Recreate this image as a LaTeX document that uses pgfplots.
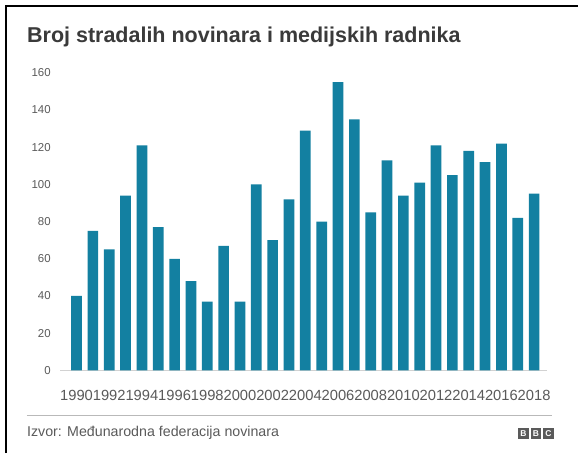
\documentclass[border=0pt]{standalone}
\usepackage{fontspec}
\setmainfont{Liberation Sans}
\usepackage{pgfplots}
\pgfplotsset{compat=1.18}
\definecolor{barblue}{HTML}{1380A1}
\definecolor{txt}{HTML}{5A5A5A}
\definecolor{ttl}{HTML}{3A3A3A}
\begin{document}
\begin{tikzpicture}[x=1bp,y=1bp]
\path[fill=white] (0,0) rectangle (579,454);
\draw[black, line width=2bp] (6,0) -- (6,448) -- (579,448);
\node[anchor=base west, inner sep=0pt, font=\bfseries\fontsize{21.6}{24}\selectfont, text=ttl] at (27,454-43) {Broj stradalih novinara i medijskih radnika};
\begin{axis}[
  at={(68.5bp,83bp)}, anchor=south west, scale only axis,
  width=474.7bp, height=298bp,
  xmin=1989.5, xmax=2018.5, ymin=0, ymax=160,
  ybar, bar width=10.7bp,
  axis line style={draw=none}, tick style={draw=none},
  ytick={0,20,...,160},
  xtick={1990,1992,...,2018},
  /pgf/number format/assume math mode=true,
  /pgf/number format/1000 sep={},
  yticklabel style={anchor=east, inner sep=0pt, xshift=-17.5bp, font=\fontsize{11.5}{13}\selectfont, text=txt},
  xticklabel style={anchor=north, inner sep=0pt, yshift=-15bp, font=\fontsize{14.8}{16}\selectfont, text=txt},
  clip=false,
]
\draw[gray!35, line width=1bp] (axis cs:1989.0,0) -- (axis cs:2018.8,0);
\addplot[fill=barblue, draw=none] coordinates {
(1990,40) (1991,75) (1992,65) (1993,94) (1994,121) (1995,77) (1996,60) (1997,48)
(1998,37) (1999,67) (2000,37) (2001,100) (2002,70) (2003,92) (2004,129) (2005,80)
(2006,155) (2007,135) (2008,85) (2009,113) (2010,94) (2011,101) (2012,121) (2013,105)
(2014,118) (2015,112) (2016,122) (2017,82) (2018,95)};
\end{axis}
\draw[gray!55, line width=1.5bp] (27,454-416) -- (553,454-416);
\node[anchor=base west, inner sep=0pt, font=\fontsize{14.3}{16}\selectfont, text=txt] at (27,454-437) {Izvor: Međunarodna federacija novinara};
\foreach \i/\l in {0/B,1/B,2/C} {
  \fill[txt] (519+\i*12.5, 454-440) rectangle ++(10.5,11);
  \node[inner sep=0pt, text=white, font=\bfseries\fontsize{8.5}{9}\selectfont] at (524.25+\i*12.5, 454-434.5) {\l};
}
\end{tikzpicture}
\end{document}
